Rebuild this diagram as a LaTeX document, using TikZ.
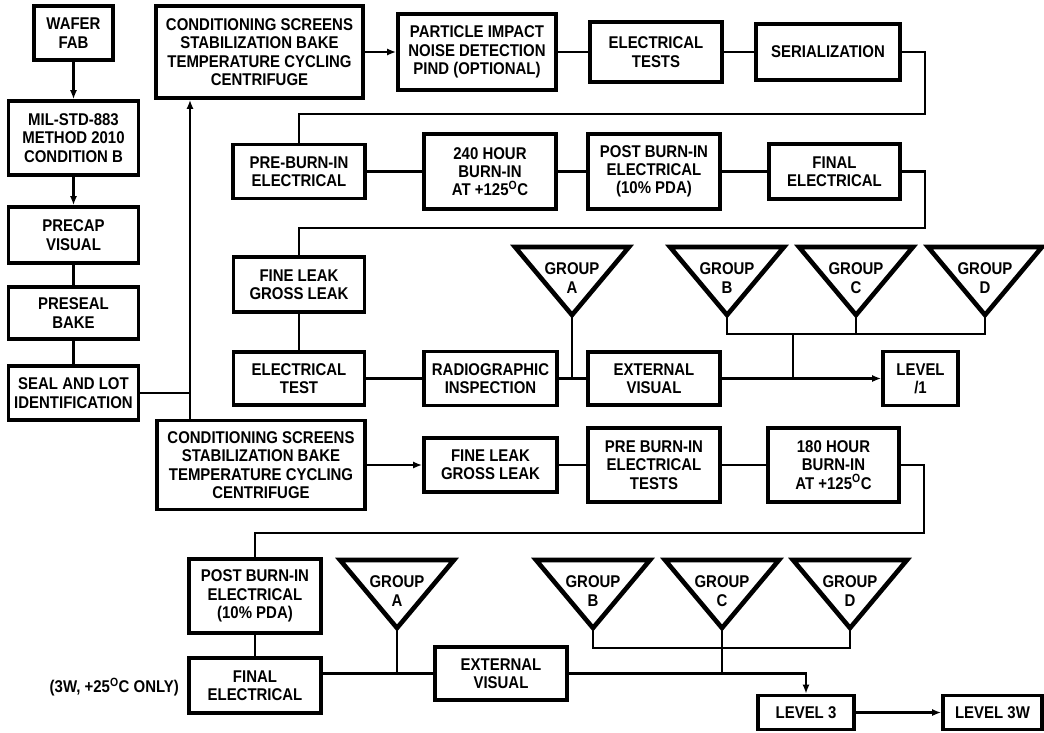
\documentclass[tikz,border=0pt]{standalone}
\usepackage{fontspec}
\setmainfont{Liberation Sans}[FakeStretch=0.88]
\usetikzlibrary{arrows.meta}
\tikzset{
  x=1pt, y=-1pt,
  lbl/.style={inner sep=0pt, align=center, font=\fontsize{17}{18.3}\selectfont\bfseries},
  box/.style={lbl, draw, line width=3.6pt},
  conn/.style={line width=2.4pt},
  arr/.style={conn, -{Latex[length=9pt,width=7pt]}},
  tri/.style={line width=4.6pt, line join=miter},
}
\newcommand\bx[6]{\node[box, minimum width=#4pt, minimum height=#5pt] (#1) at (#2,#3) {#6};}
\newcommand\grp[4]{%
  \draw[tri] (#2-57,#3) -- (#2+57,#3) -- (#2,#3+68) -- cycle;
  \coordinate (#1) at (#2,#3+68);
  \node[lbl] (#1t) at (#2,#3+31) {GROUP\\#4};
}
\begin{document}
\begin{tikzpicture}
\fill[white] (0,0) rectangle (1044,732);
\useasboundingbox (0,0) rectangle (1044,732);
% left column
\bx{wafer}{73.5}{33}{79}{54}{WAFER\\FAB}
\bx{mil}{73.5}{138}{130}{74}{MIL-STD-883\\METHOD 2010\\CONDITION B}
\bx{precap}{73.5}{235}{130}{56}{PRECAP\\VISUAL}
\bx{preseal}{73.5}{313}{130}{52}{PRESEAL\\BAKE}
\bx{seal}{73.5}{393}{130}{54}{SEAL AND LOT\\IDENTIFICATION}
% row 1
\bx{cond1}{259.5}{52}{207}{92}{CONDITIONING SCREENS\\STABILIZATION BAKE\\TEMPERATURE CYCLING\\CENTRIFUGE}
\bx{pind}{477}{52}{158}{76}{PARTICLE IMPACT\\NOISE DETECTION\\PIND (OPTIONAL)}
\bx{et1}{656}{52}{132}{60}{ELECTRICAL\\TESTS}
\bx{ser}{828}{52}{144}{56}{SERIALIZATION}
% row 2
\bx{preburn}{299}{171.5}{132}{54}{PRE-BURN-IN\\ELECTRICAL}
\bx{b240}{490}{171.5}{132}{75}{240 HOUR\\BURN-IN\\AT +125\textsuperscript{O}C}
\bx{post1}{654}{171.5}{132}{75}{POST BURN-IN\\ELECTRICAL\\(10\% PDA)}
\bx{final1}{834.5}{171.5}{131}{55}{FINAL\\ELECTRICAL}
% row 3
\bx{fl1}{299}{284.5}{131}{55}{FINE LEAK\\GROSS LEAK}
\bx{et2}{299}{378.5}{131}{53}{ELECTRICAL\\TEST}
\bx{rad}{490.5}{378.5}{133}{54}{RADIOGRAPHIC\\INSPECTION}
\bx{ext1}{654}{378.5}{132}{53}{EXTERNAL\\VISUAL}
\bx{lvl1}{920.5}{378.5}{75}{54}{LEVEL\\/1}
\grp{tA1}{572}{247}{A}
\grp{tB1}{727}{247}{B}
\grp{tC1}{856}{247}{C}
\grp{tD1}{985}{247}{D}
% row 4
\bx{cond2}{261}{465}{208}{89}{CONDITIONING SCREENS\\STABILIZATION BAKE\\TEMPERATURE CYCLING\\CENTRIFUGE}
\bx{fl2}{490.5}{465}{133}{54}{FINE LEAK\\GROSS LEAK}
\bx{pbi2}{654}{465}{132}{74}{PRE BURN-IN\\ELECTRICAL\\TESTS}
\bx{h180}{833.5}{465}{131}{74}{180 HOUR\\BURN-IN\\AT +125\textsuperscript{O}C}
% row 5
\bx{post2}{255}{596}{132}{74}{POST BURN-IN\\ELECTRICAL\\(10\% PDA)}
\bx{final2}{255}{685.5}{132}{55}{FINAL\\ELECTRICAL}
\node[lbl, anchor=east] (note) at (179,687) {(3W, +25\textsuperscript{O}C ONLY)};
\bx{ext2}{501}{673.5}{132}{53}{EXTERNAL\\VISUAL}
\bx{lvl3}{806}{712.5}{96}{34}{LEVEL 3}
\bx{lvl3w}{992.5}{712.5}{99}{34}{LEVEL 3W}
\grp{tA2}{397}{560}{A}
\grp{tB2}{593}{560}{B}
\grp{tC2}{722}{560}{C}
\grp{tD2}{850}{560}{D}
% connectors
\draw[arr] (wafer.south) -- (mil.north);
\draw[arr] (mil.south) -- (precap.north);
\draw[conn] (precap.south) -- (preseal.north);
\draw[conn] (preseal.south) -- (seal.north);
\coordinate (j) at (190,393);
\draw[conn] (seal.east) -- (j);
\draw[arr] (j) -- (j |- cond1.south);
\draw[conn] (j) -- (j |- cond2.north);
\draw[arr] (cond1.east) -- (pind.west);
\draw[conn] (pind.east) -- (et1.west);
\draw[conn] (et1.east) -- (ser.west);
\coordinate (r1) at (925,114);
\draw[conn] (ser.east) -| (r1) -| (preburn.north);
\draw[conn] (preburn.east) -- (b240.west);
\draw[conn] (b240.east) -- (post1.west);
\draw[conn] (post1.east) -- (final1.west);
\coordinate (r2) at (925,228);
\draw[conn] (final1.east) -| (r2) -| (fl1.north);
\draw[conn] (fl1.south) -- (et2.north);
\draw[conn] (et2.east) -- (rad.west);
\draw[conn] (rad.east) -- (ext1.west);
\draw[conn] (tA1) -- (tA1 |- rad.east);
\draw[arr] (ext1.east) -- (lvl1.west);
\coordinate (h1) at (793,334);
\draw[conn] (tB1) |- (h1) -| (tD1);
\draw[conn] (tC1) -- (tC1 |- h1);
\draw[conn] (h1) -- (h1 |- ext1.east);
\draw[arr] (cond2.east) -- (fl2.west);
\draw[conn] (fl2.east) -- (pbi2.west);
\draw[conn] (pbi2.east) -- (h180.west);
\coordinate (r3) at (924,533);
\draw[conn] (h180.east) -| (r3) -| (post2.north);
\draw[conn] (post2.south) -- (final2.north);
\draw[conn] (final2.east |- ext2.west) -- (ext2.west);
\draw[conn] (tA2) -- (tA2 |- ext2.west);
\coordinate (h2) at (722,648);
\draw[conn] (tB2) |- (h2) -| (tD2);
\draw[conn] (tC2) -- (tC2 |- ext2.east);
\draw[arr] (ext2.east) -| (lvl3.north);
\draw[arr] (lvl3.east) -- (lvl3w.west);
\end{tikzpicture}
\end{document}
